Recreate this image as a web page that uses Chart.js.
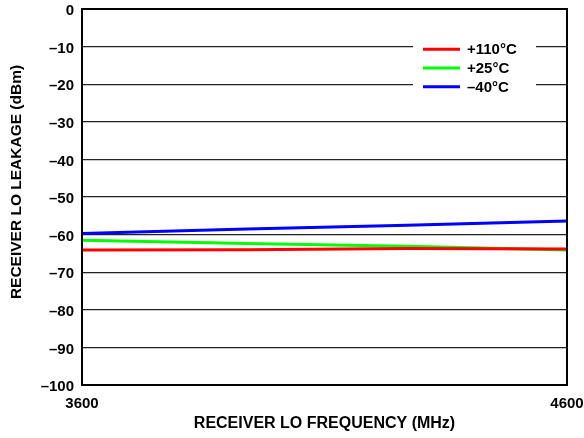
<!DOCTYPE html>
<html>
<head>
<meta charset="utf-8">
<script src="https://cdn.jsdelivr.net/npm/chart.js@4/dist/chart.umd.min.js"></script>
<style>
html,body{margin:0;padding:0;background:#fff;}
#wrap{width:584px;height:438px;position:relative;}
</style>
</head>
<body>
<div id="wrap"><canvas id="c" width="584" height="438"></canvas></div>
<script>
const freqMHz = [3600, 3940, 4270, 4600];
const leak110C = [-64.1, -64.0, -63.7, -63.8];
const leak25C = [-61.5, -62.4, -63.1, -64.1];
const leakM40C = [-59.7, -58.5, -57.5, -56.4];
const seriesLabels = ['+110°C', '+25°C', '\u201340°C'];
const seriesColors = ['#ff0000', '#00ff00', '#0000ff'];
const xTickValues = [3600, 4600];
const yTitle = 'RECEIVER LO LEAKAGE (dBm)';
const xTitle = 'RECEIVER LO FREQUENCY (MHz)';

const FONT = 'Liberation Sans, Arial, Helvetica, sans-serif';

function pts(xs, ys) { return xs.map((x, i) => ({x: x, y: ys[i]})); }
function fmtY(v) { return v < 0 ? '\u2013' + Math.abs(v) : String(v); }

const boxPlugin = {
  id: 'boxAndLegend',
  afterDraw(chart) {
    const {ctx, chartArea: a} = chart;
    const ys = chart.scales.y;
    ctx.save();
    // y tick labels (slightly below gridline, as in reference)
    ctx.font = 'bold 15px ' + FONT;
    ctx.fillStyle = '#000';
    ctx.textAlign = 'right';
    ctx.textBaseline = 'middle';
    ys.ticks.forEach(t => {
      ctx.fillText(fmtY(t.value), a.left - 8, ys.getPixelForValue(t.value) + 2);
    });
    // legend box
    const lx = 413, ly = 37, lw = 123, lh = 60;
    ctx.fillStyle = '#fff';
    ctx.fillRect(lx, ly, lw, lh);
    ctx.textBaseline = 'middle';
    ctx.textAlign = 'left';
    chart.data.datasets.forEach((ds, i) => {
      const y = 49.3 + i * 18.7;
      ctx.strokeStyle = ds.borderColor;
      ctx.lineWidth = 3;
      ctx.beginPath();
      ctx.moveTo(423, y);
      ctx.lineTo(460, y);
      ctx.stroke();
      ctx.fillStyle = '#000';
      ctx.fillText(ds.label, 467, y + 1);
    });
    // frame
    ctx.strokeStyle = '#000';
    ctx.lineWidth = 2;
    ctx.strokeRect(a.left, a.top, a.right - a.left, a.bottom - a.top);
    // y axis title
    ctx.translate(17, 182);
    ctx.rotate(-Math.PI / 2);
    ctx.font = 'bold 15.5px ' + FONT;
    ctx.textAlign = 'center';
    ctx.textBaseline = 'middle';
    ctx.fillStyle = '#000';
    ctx.fillText(yTitle, 0, 0);
    ctx.restore();
  }
};

new Chart(document.getElementById('c'), {
  type: 'line',
  data: {
    datasets: [
      {label: seriesLabels[0], data: pts(freqMHz, leak110C), borderColor: seriesColors[0]},
      {label: seriesLabels[1], data: pts(freqMHz, leak25C), borderColor: seriesColors[1]},
      {label: seriesLabels[2], data: pts(freqMHz, leakM40C), borderColor: seriesColors[2]}
    ].map(d => Object.assign(d, {borderWidth: 3, pointRadius: 0, tension: 0, fill: false}))
  },
  options: {
    responsive: false,
    animation: false,
    devicePixelRatio: 1,
    layout: {padding: {left: 0, right: 17, top: 9, bottom: 0}},
    plugins: {legend: {display: false}, tooltip: {enabled: false}},
    scales: {
      x: {
        type: 'linear',
        min: 3600, max: 4600,
        afterBuildTicks(scale) { scale.ticks = xTickValues.map(v => ({value: v})); },
        afterFit(scale) {
          scale.height = 53;
          scale.paddingLeft = 0; scale.paddingRight = 0;
          scale.paddingTop = 0; scale.paddingBottom = 0;
        },
        grid: {display: false, drawTicks: false},
        border: {display: false},
        ticks: {
          padding: 10,
          color: '#000',
          font: {family: FONT, size: 15, weight: 'bold'},
          maxRotation: 0,
          autoSkip: false,
          callback: v => String(v)
        },
        title: {
          display: true,
          text: xTitle,
          color: '#000',
          font: {family: FONT, size: 16, weight: 'bold'},
          padding: {top: 0, bottom: 5}
        }
      },
      y: {
        min: -100, max: 0,
        afterFit(scale) {
          scale.width = 82;
          scale.paddingLeft = 0; scale.paddingRight = 0;
          scale.paddingTop = 0; scale.paddingBottom = 0;
        },
        ticks: {
          stepSize: 10,
          padding: 8,
          color: 'rgba(0,0,0,0)',
          font: {family: FONT, size: 15, weight: 'bold'},
          callback: v => fmtY(v)
        },
        grid: {
          drawTicks: false,
          lineWidth: 1.3,
          color: ctx => (ctx.tick && (ctx.tick.value === 0 || ctx.tick.value === -100)) ? 'rgba(0,0,0,0)' : '#222'
        },
        border: {display: false},
        title: {display: false}
      }
    }
  },
  plugins: [boxPlugin]
});
</script>
</body>
</html>
